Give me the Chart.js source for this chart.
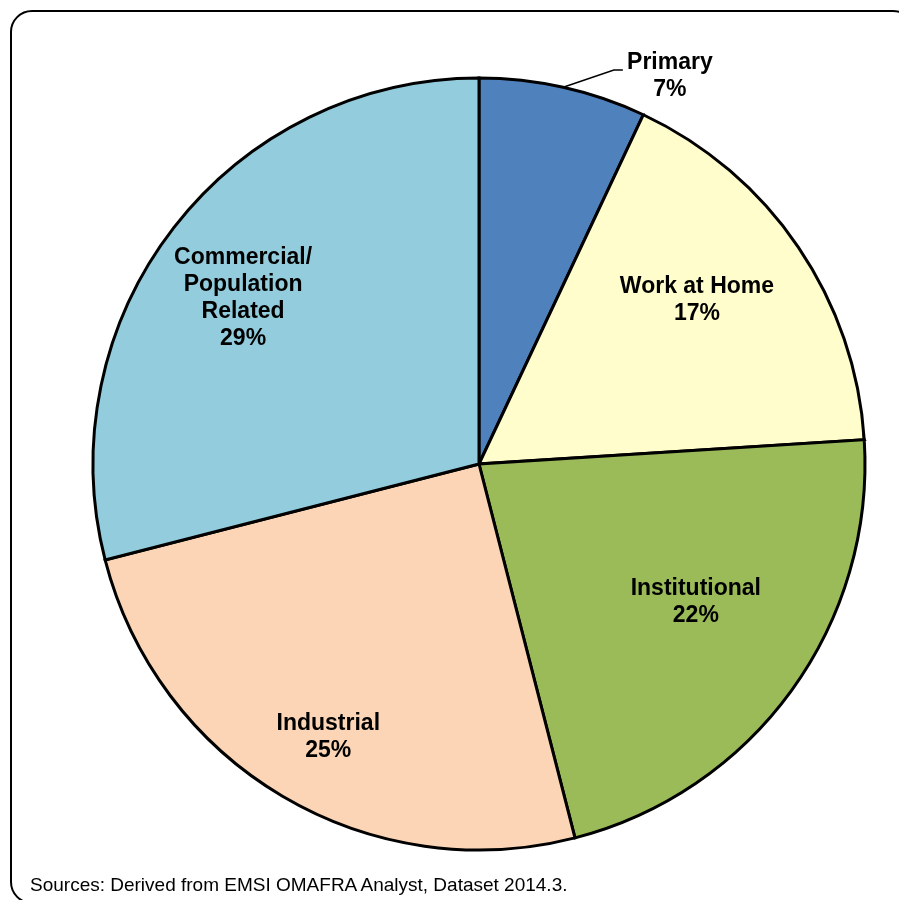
<!DOCTYPE html>
<html>
<head>
<meta charset="utf-8">
<script src="https://cdn.jsdelivr.net/npm/chart.js@4.4.1/dist/chart.umd.min.js"></script>
<style>
  html, body { margin: 0; padding: 0; background: #fff; overflow: hidden; }
  #wrap { position: relative; width: 899px; height: 900px; overflow: hidden; }
  #frame {
    position: absolute; left: 10px; top: 10px; width: 905px; height: 894px;
    box-sizing: border-box; border: 2px solid #000; border-radius: 22px;
  }
  #pie { position: absolute; left: 0; top: 0; }
  #source {
    position: absolute; left: 30px; top: 874px;
    font-family: "Liberation Sans", Arial, sans-serif; font-size: 19px; color: #000;
  }
</style>
</head>
<body>
<div id="wrap">
  <div id="frame"></div>
  <canvas id="pie" width="899" height="900"></canvas>
  <div id="source">Sources: Derived from EMSI OMAFRA Analyst, Dataset 2014.3.</div>
</div>
<script>
// --- Employment share by sector ---
const sectors = ['Primary', 'Work at Home', 'Institutional', 'Industrial', 'Commercial/\nPopulation\nRelated'];
const shares = [7, 17, 22, 25, 29];
const sliceColors = ['#4F81BD', '#FFFDCB', '#9BBB59', '#FBD5B5', '#93CDDD'];

// label placement: fraction of radius and angle shift (deg) from slice middle
const labelSpots = [
    { r: 1.12, shift: 13.6, leader: true },
    { r: 0.707, shift: -2.8 },
    { r: 0.666, shift: -3.5 },
    { r: 0.808, shift: -1.7 },
    { r: 0.747, shift: -2.7 }
];

// --- Slice labels drawn on top of the arcs ---
const sliceLabels = {
    id: 'sliceLabels',
    afterDatasetsDraw(chart) {
        const ctx = chart.ctx;
        const arcs = chart.getDatasetMeta(0).data;
        ctx.save();
        ctx.font = 'bold 23px "Liberation Sans", Arial, sans-serif';
        ctx.fillStyle = '#000';
        ctx.textAlign = 'center';
        ctx.textBaseline = 'middle';
        arcs.forEach((arc, i) => {
            const { x, y, startAngle, endAngle, outerRadius } = arc.getProps(['x', 'y', 'startAngle', 'endAngle', 'outerRadius'], true);
            const mid = (startAngle + endAngle) / 2;
            const spot = labelSpots[i];
            const ang = mid + spot.shift * Math.PI / 180;
            const lx = x + Math.cos(ang) * outerRadius * spot.r;
            const ly = y + Math.sin(ang) * outerRadius * spot.r;
            const lines = sectors[i].split('\n').concat([shares[i] + '%']);
            const lh = 27;
            const top = ly - (lines.length - 1) * lh / 2;
            lines.forEach((t, k) => ctx.fillText(t, lx, top + k * lh));

            if (spot.leader) {
                // leader line from the rim to the left of the label
                const ex = x + Math.cos(mid) * outerRadius;
                const ey = y + Math.sin(mid) * outerRadius;
                const bx = lx - 56, by = ly - 6;
                ctx.beginPath();
                ctx.strokeStyle = '#000';
                ctx.lineWidth = 1.5;
                ctx.moveTo(ex, ey);
                ctx.lineTo(bx, by);
                ctx.lineTo(bx + 9, by);
                ctx.stroke();
            }
        });
        ctx.restore();
    }
};

new Chart(document.getElementById('pie').getContext('2d'), {
    type: 'pie',
    data: {
        labels: sectors,
        datasets: [{
            data: shares,
            backgroundColor: sliceColors,
            borderColor: '#000',
            borderWidth: 3,
            borderJoinStyle: 'miter'
        }]
    },
    options: {
        responsive: false,
        animation: false,
        radius: 386,
        layout: { padding: { left: 59, right: 0, top: 28, bottom: 0 } },
        plugins: {
            legend: { display: false },
            tooltip: { enabled: false }
        }
    },
    plugins: [sliceLabels]
});
</script>
</body>
</html>
